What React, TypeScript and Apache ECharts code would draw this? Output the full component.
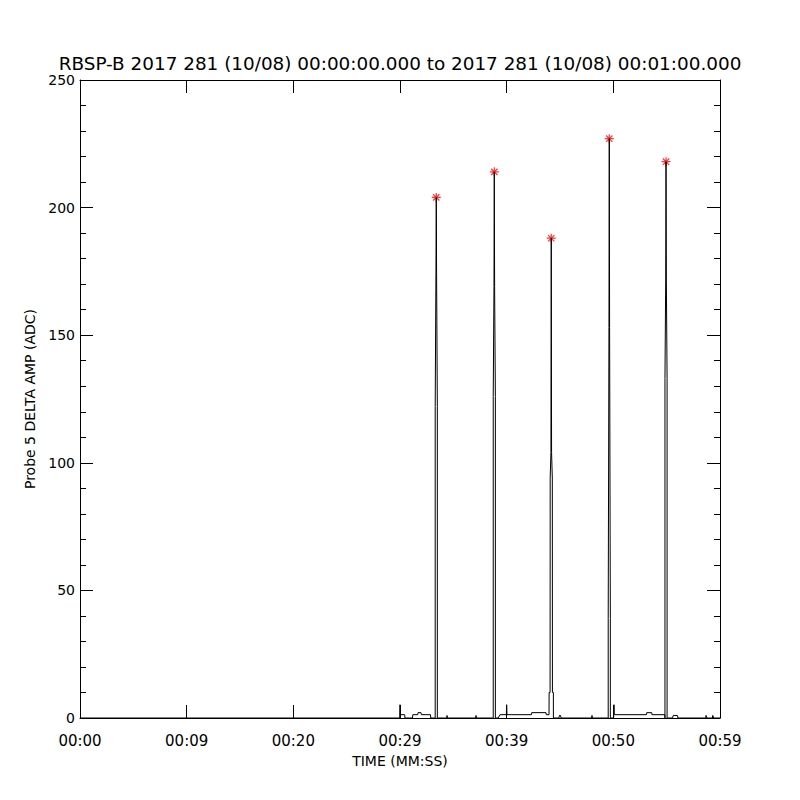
import React, { useEffect, useRef } from "react";
import * as echarts from "echarts";

const titleText =
  "RBSP-B 2017 281 (10/08) 00:00:00.000 to 2017 281 (10/08) 00:01:00.000";
const xTickLabels = ["00:00", "00:09", "00:20", "00:29", "00:39", "00:50", "00:59"];
const yTickLabels = ["0", "50", "100", "150", "200", "250"];

// time in seconds
const times = [
  0, 29.97, 30.0, 30.03, 30.44, 30.46, 31.17, 31.2, 31.66, 31.69, 31.97, 32.0, 32.86, 32.88,
  33.3, 33.3, 33.37, 33.4, 33.43, 33.5, 33.5,
  34.38, 34.41, 34.44, 37.1, 37.13, 37.16,
  38.74, 38.74, 38.81, 38.84, 38.87, 38.94, 38.94,
  39.2, 39.38, 39.97, 40.0, 40.03, 42.33, 42.35, 43.69, 43.71, 43.97,
  43.98, 43.98, 44.07, 44.08, 44.15, 44.18, 44.21, 44.28, 44.29, 44.38, 44.38,
  44.9, 44.95, 45.05, 45.1, 47.97, 48.0, 48.03,
  49.52, 49.52, 49.59, 49.62, 49.65, 49.72, 49.72,
  50.03, 50.06, 50.09, 53.11, 53.13, 53.6, 53.62, 54.83,
  54.84, 54.84, 54.91, 54.94, 54.97, 55.04, 55.04,
  55.55, 55.62, 56.0, 56.06, 58.66, 58.69, 58.75, 58.78, 59.29, 59.32, 59.38, 59.41, 60,
];
const amps = [
  0, 0, 5.2, 1.3, 1.3, 0, 0, 1.3, 1.3, 2.1, 2.1, 1.3, 1.3, 0,
  0, 122, 174, 204, 174, 122, 0,
  0, 1, 0, 0, 1, 0,
  0, 126, 169, 214, 169, 126, 0,
  0, 1.3, 1.3, 5.2, 1.3, 1.3, 2.1, 2.1, 1.3, 1.3,
  1.3, 10, 10, 94, 104, 188, 104, 94, 10, 10, 0,
  0, 1, 1, 0, 0, 1, 0,
  0, 39, 153, 227, 153, 39, 0,
  0, 5.2, 1.3, 1.3, 2.1, 2.1, 1.3, 1.3,
  0, 133, 172, 218, 172, 133, 0,
  0, 1, 1, 0, 0, 1, 1, 0, 0, 1, 1, 0, 0,
];

const peakTimes = [33.4, 38.84, 44.18, 49.62, 54.94];
const peakAmps = [204, 214, 188, 227, 218];

const FONT = "DejaVu Sans";

export default function App() {
  const ref = useRef<HTMLDivElement>(null);
  useEffect(() => {
    if (!ref.current) return;
    const chart = echarts.init(ref.current, undefined, { renderer: "svg" });
    const lineData = times.map((t, i) => [t, amps[i]]);
    const peakData = peakTimes.map((t, i) => [t, peakAmps[i]]);
    const axisLine = { show: true, onZero: false, lineStyle: { color: "#000", width: 1 } };
    const tick = { show: true, inside: true, length: 13, lineStyle: { color: "#000" } };
    const minor = { show: true, splitNumber: 5, length: 6, lineStyle: { color: "#000" } };
    chart.setOption({
      animation: false,
      backgroundColor: "#fff",
      title: {
        text: titleText,
        left: "center",
        top: 49,
        textStyle: { fontFamily: FONT, fontSize: 18.4, fontWeight: "normal", color: "#000" },
      },
      grid: { left: 80, top: 80, width: 640, height: 638, containLabel: false },
      xAxis: [
        {
          type: "value",
          position: "bottom",
          min: 0,
          max: 60,
          interval: 10,
          axisLine,
          axisTick: tick,
          axisLabel: {
            color: "#000",
            fontFamily: FONT,
            fontSize: 15,
            margin: 15,
            formatter: (v: number) => xTickLabels[Math.round(v / 10)] ?? "",
          },
          splitLine: { show: false },
          name: "TIME (MM:SS)",
          nameLocation: "middle",
          nameGap: 36,
          nameTextStyle: { color: "#000", fontFamily: FONT, fontSize: 14 },
        },
        {
          type: "value",
          position: "top",
          min: 0,
          max: 60,
          interval: 10,
          axisLine,
          axisTick: tick,
          axisLabel: { show: false },
          splitLine: { show: false },
        },
      ],
      yAxis: [
        {
          type: "value",
          position: "left",
          min: 0,
          max: 250,
          interval: 50,
          axisLine,
          axisTick: tick,
          minorTick: minor,
          axisLabel: {
            color: "#000",
            fontFamily: FONT,
            fontSize: 14,
            margin: 5,
            formatter: (v: number) => yTickLabels[Math.round(v / 50)] ?? "",
          },
          splitLine: { show: false },
          minorSplitLine: { show: false },
          name: "Probe 5 DELTA AMP (ADC)",
          nameLocation: "middle",
          nameGap: 39,
          nameRotate: 90,
          nameTextStyle: { color: "#000", fontFamily: FONT, fontSize: 14 },
        },
        {
          type: "value",
          position: "right",
          min: 0,
          max: 250,
          interval: 50,
          axisLine,
          axisTick: tick,
          minorTick: minor,
          axisLabel: { show: false },
          splitLine: { show: false },
        },
      ],
      series: [
        {
          type: "line",
          data: lineData,
          xAxisIndex: 0,
          yAxisIndex: 0,
          symbol: "none",
          lineStyle: { color: "#000", width: 1 },
          silent: true,
        },
        {
          type: "scatter",
          data: peakData,
          xAxisIndex: 0,
          yAxisIndex: 0,
          symbol: "path://M5,0L5,10M0,5L10,5M1.5,1.5L8.5,8.5M8.5,1.5L1.5,8.5",
          symbolSize: 9,
          itemStyle: { color: "#ff0000", borderColor: "#ff0000", borderWidth: 1.2 },
          silent: true,
        },
      ],
    });
    return () => chart.dispose();
  }, []);
  return (
    <div
      ref={ref}
      style={{ position: "absolute", left: 0, top: 0, width: 800, height: 800, background: "#fff" }}
    />
  );
}
